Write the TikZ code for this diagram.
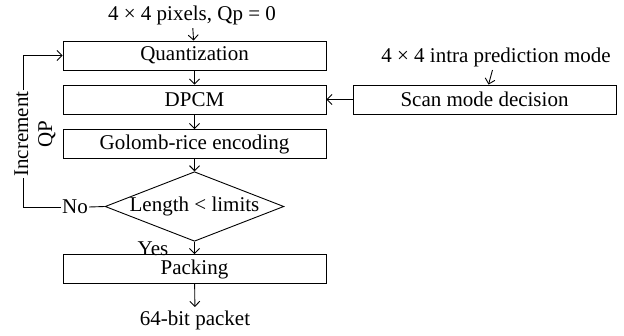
\documentclass[tikz,border=0pt]{standalone}
\usepackage{fontspec}
\setmainfont{Liberation Serif}
\usetikzlibrary{shapes.geometric,arrows.meta}
\tikzstyle{block}=[draw, line width=.9pt, minimum width=263pt, minimum height=29pt, inner sep=0pt]
\tikzstyle{decision}=[draw, line width=.9pt, diamond, aspect=2.57, minimum width=175pt, minimum height=68pt, inner sep=0pt]
\tikzset{flow/.style={-{Straight Barb[length=5pt,width=10pt]}, line width=.9pt}}
\tikzset{wire/.style={line width=.9pt}}

\begin{document}
\begin{tikzpicture}[x=1pt,y=-1pt,font=\fontsize{21}{23}\selectfont]
  \useasboundingbox (0,0) rectangle (624,335);
  \draw (192,15) node (In) {4 × 4 pixels, Qp = 0};
  \draw (194.5,55.5) node[block] (Quant) {Quantization};
  \draw (194.5,99.5) node[block] (DPCM) {DPCM};
  \draw (194.5,144) node[block] (Golomb) {Golomb-rice encoding};
  \draw (194.5,206.5) node[decision] (Check) {Length < limits};
  \draw (194.5,269) node[block] (Packing) {Packing};
  \draw (195,320) node (Out) {64-bit packet};

  \draw (496,57) node (Mode) {4 × 4 intra prediction mode};
  \draw (484.5,99.5) node[block] (Scan) {Scan mode decision};

  \draw[flow] (In) -- (Quant);
  \draw[flow] (Quant) -- (DPCM);
  \draw[flow] (DPCM) -- (Golomb);
  \draw[flow] (Golomb) -- (Check);
  \draw[flow] (Check) -- (Packing);
  \draw[flow] (Packing) -- (Out);
  \draw[flow] (Mode) -- (Scan);
  \draw[flow] (Scan) -- (DPCM);
  \draw (Check.south) node[anchor=north east, inner sep=1pt, xshift=-25pt, yshift=1pt] (Yes) {Yes};

  %% Loop back
  \draw (75,207) node[inner sep=1pt] (No) {No};
  \draw (35,134) node[rotate=90, align=center, inner sep=1pt, font=\fontsize{21}{24}\selectfont] (Incr) {Increment\\QP};
  \draw[wire] (Check.west) -- (No.east);
  \draw[wire] (No.west) -| (Incr.south west -| 23,0);
  \draw[flow] (Incr.south east -| 23,0) |- (Quant.west);
\end{tikzpicture}
\end{document}
